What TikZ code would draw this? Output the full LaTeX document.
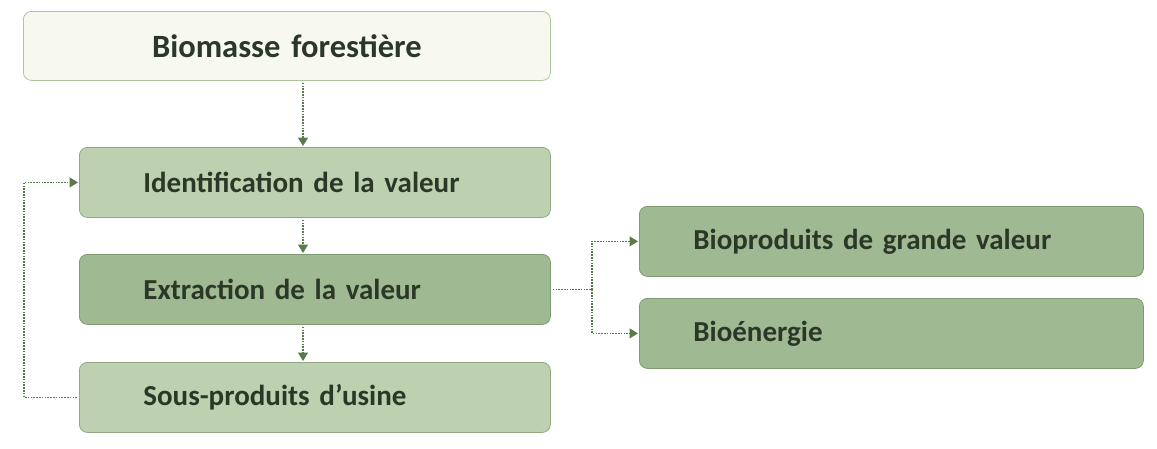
\documentclass[tikz,border=0pt]{standalone}
\usepackage{fontspec}
\setmainfont{Carlito}
\usetikzlibrary{arrows.meta,calc}
\definecolor{txt}{HTML}{2B3827}
\definecolor{lightfill}{HTML}{F7F9F1}
\definecolor{lightdraw}{HTML}{AFC3A0}
\definecolor{midfill}{HTML}{BDD0AF}
\definecolor{middraw}{HTML}{8FA881}
\definecolor{darkfill}{HTML}{9FBA93}
\definecolor{darkdraw}{HTML}{7E9A70}
\definecolor{arrcol}{HTML}{5B7A4B}
\tikzset{
  boxbase/.style={rectangle, rounded corners=8pt, line width=0.8pt, anchor=north west,
    font=\bfseries\fontsize{29}{32}\selectfont, text=txt, align=left, inner ysep=0pt},
  leftbox/.style={boxbase, minimum width=471pt, minimum height=70pt, text width=343pt, inner xsep=64pt},
  rightbox/.style={boxbase, minimum width=504pt, minimum height=70pt, text width=396pt, inner xsep=54pt},
  lightbox/.style={fill=lightfill, draw=lightdraw},
  midbox/.style={fill=midfill, draw=middraw},
  darkbox/.style={fill=darkfill, draw=darkdraw},
  arr/.style={draw=arrcol, line width=1.2pt, dash pattern=on 1.6pt off 1.2pt,
    -{Triangle[length=8.5pt,width=10pt,fill=arrcol,sep=1pt]}, shorten <=2pt},
  link/.style={draw=arrcol, line width=1.2pt, dash pattern=on 1.6pt off 1.2pt}
}
\begin{document}
\begin{tikzpicture}[x=1pt,y=-1pt]
\useasboundingbox (0,0) rectangle (1157,448);
\node[boxbase, lightbox, minimum width=527pt, minimum height=69pt, text width=500pt, inner xsep=13pt, align=center,
  font=\bfseries\fontsize{32.5}{35}\selectfont] (bio) at (23,11) {Biomasse forestière};
\node[leftbox, midbox] (ident) at (79,147) {Identification de la valeur};
\node[leftbox, darkbox] (extr) at (79,254) {Extraction de la valeur};
\node[leftbox, midbox] (sous) at (79,362) {Sous-produits d’usine};
\node[rightbox, darkbox] (biop) at (639,206) {Bioproduits de grande valeur};
\node[rightbox, darkbox] (bioe) at (639,298) {Bioénergie};
\coordinate (ax) at (303,0);
\coordinate (split) at (592,0);
\coordinate (loop) at (24,0);
\draw[arr] (bio.south -| ax) -- (ident.north -| ax);
\draw[arr] (ident.south -| ax) -- (extr.north -| ax);
\draw[arr] (extr.south -| ax) -- (sous.north -| ax);
\draw[link] (extr.east) ++(2,0) -- (extr.east -| split);
\draw[arr, shorten <=0pt] (extr.east -| split) |- (biop.west);
\draw[arr, shorten <=0pt] (extr.east -| split) |- (bioe.west);
\draw[arr] (sous.west) -- (sous.west -| loop) |- (ident.west);
\end{tikzpicture}
\end{document}
